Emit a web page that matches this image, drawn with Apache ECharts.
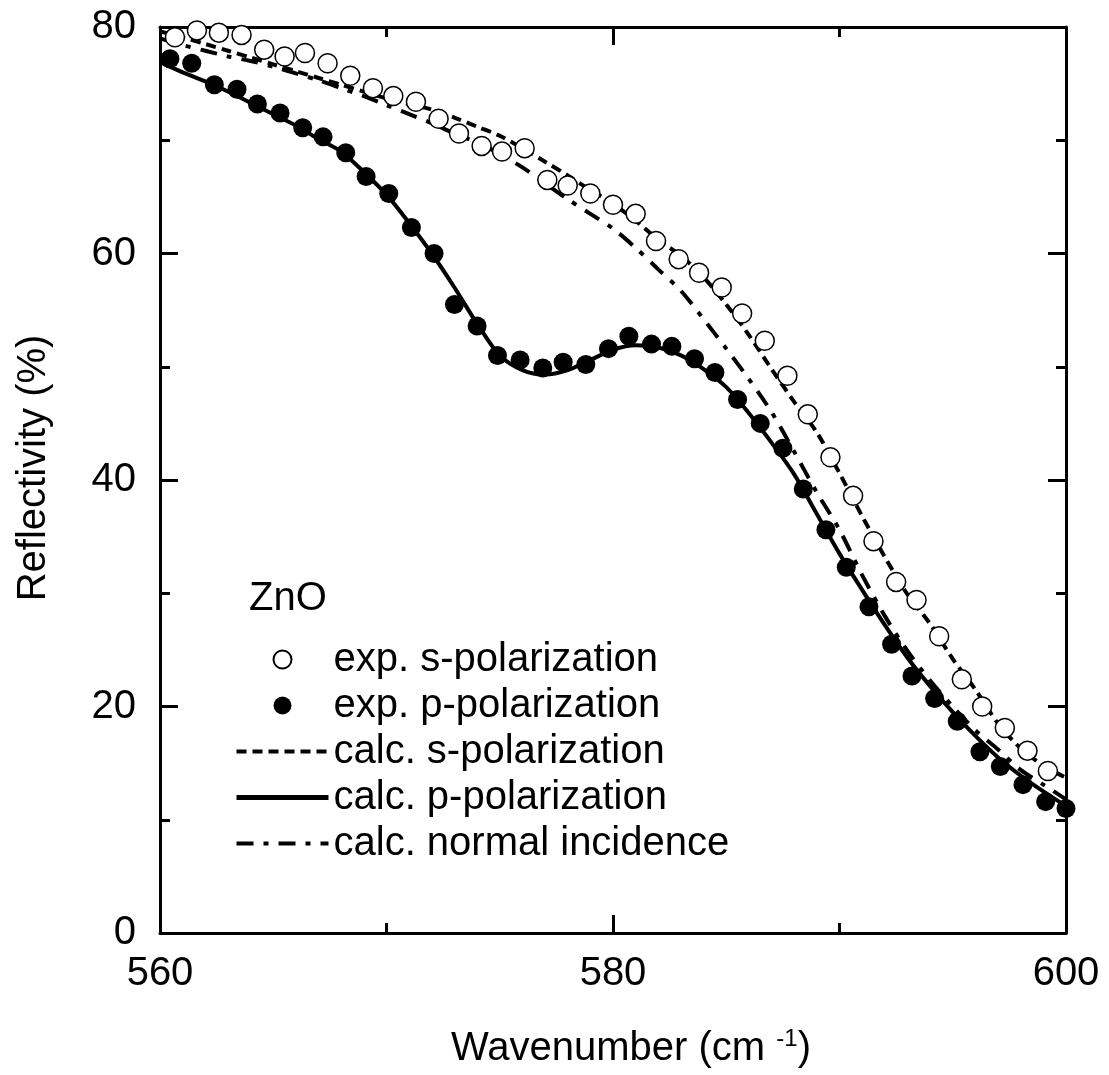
<!DOCTYPE html>
<html lang="en">
<head>
    <meta charset="UTF-8">
    <title>ZnO reflectivity</title>
    <script src="https://cdn.jsdelivr.net/npm/echarts@6/dist/echarts.min.js"></script>
    <style>
        body { margin: 0; background: #fff; }
        #main { width: 1109px; height: 1075px; }
    </style>
</head>
<body>
    <div id="main"></div>
    <script type="text/javascript">
        // measured points (wavenumber, reflectivity)
        var expSX = [560.66, 561.63, 562.6, 563.6, 564.6, 565.5, 566.4, 567.4, 568.4, 569.4, 570.3, 571.3, 572.3, 573.2, 574.2, 575.1, 576.1, 577.1, 578.0, 579.0, 580.0, 581.0, 581.9, 582.9, 583.8, 584.8, 585.7, 586.7, 587.7, 588.6, 589.6, 590.6, 591.5, 592.5, 593.4, 594.4, 595.4, 596.3, 597.3, 598.3, 599.2];
        var expSY = [79.1, 79.7, 79.5, 79.3, 78.0, 77.4, 77.7, 76.8, 75.7, 74.6, 73.9, 73.4, 71.9, 70.6, 69.5, 69.0, 69.3, 66.5, 66.0, 65.3, 64.3, 63.5, 61.1, 59.5, 58.3, 57.0, 54.7, 52.3, 49.2, 45.8, 42.0, 38.6, 34.6, 31.0, 29.4, 26.2, 22.4, 20.0, 18.1, 16.1, 14.3];

        var expPX = [560.44, 561.4, 562.4, 563.4, 564.3, 565.3, 566.3, 567.2, 568.2, 569.1, 570.1, 571.1, 572.1, 573.0, 574.0, 574.9, 575.9, 576.9, 577.8, 578.8, 579.8, 580.7, 581.7, 582.6, 583.6, 584.5, 585.5, 586.5, 587.5, 588.4, 589.4, 590.3, 591.3, 592.3, 593.2, 594.2, 595.2, 596.2, 597.1, 598.1, 599.1, 600.0];
        var expPY = [77.2, 76.8, 74.9, 74.5, 73.2, 72.4, 71.1, 70.3, 68.9, 66.8, 65.3, 62.3, 60.0, 55.5, 53.6, 51.0, 50.6, 49.9, 50.4, 50.2, 51.6, 52.7, 52.0, 51.8, 50.7, 49.5, 47.1, 45.0, 42.8, 39.2, 35.6, 32.3, 28.8, 25.5, 22.7, 20.7, 18.7, 16.0, 14.7, 13.1, 11.6, 11.0];

        // calculated curves, every 1 cm-1 from 560 to 600
        var calcX = [560, 561, 562, 563, 564, 565, 566, 567, 568, 569, 570, 571, 572, 573, 574, 575, 576, 577, 578, 579, 580, 581, 582, 583, 584, 585, 586, 587, 588, 589, 590, 591, 592, 593, 594, 595, 596, 597, 598, 599, 600];
        var calcS = [79.6, 79.1, 78.5, 77.9, 77.3, 76.7, 76.1, 75.5, 74.9, 74.3, 73.7, 73.2, 72.7, 72.0, 71.2, 70.4, 69.3, 68.1, 66.9, 65.6, 64.4, 62.9, 61.2, 59.8, 57.9, 55.5, 52.8, 49.8, 46.9, 44.2, 40.6, 36.8, 33.2, 29.9, 27.3, 24.2, 21.5, 18.5, 16.3, 14.8, 13.7];
        var calcP = [76.9, 76.0, 75.2, 74.3, 73.3, 72.3, 71.3, 70.1, 69.0, 67.2, 65.2, 62.7, 60.0, 57.0, 53.8, 51.0, 49.7, 49.3, 49.7, 50.6, 51.5, 51.9, 51.7, 51.0, 49.8, 48.2, 45.9, 43.3, 40.5, 37.0, 33.5, 30.3, 27.2, 24.3, 21.8, 19.5, 17.4, 15.5, 13.9, 12.5, 11.2];
        var calcN = [79.0, 78.4, 77.9, 77.4, 77.0, 76.5, 75.9, 75.3, 74.6, 73.9, 73.1, 72.3, 71.5, 70.6, 69.8, 68.8, 67.6, 66.2, 64.8, 63.5, 62.2, 60.5, 58.6, 56.7, 54.2, 51.6, 48.9, 46.0, 42.5, 38.9, 35.6, 31.6, 28.0, 24.9, 22.3, 20.0, 17.9, 16.2, 14.4, 13.1, 11.8];

        var xTicks = [560, 580, 600];
        var yTicks = [0, 20, 40, 60, 80];

        function pairs(xs, ys) {
            return xs.map(function (x, i) { return [x, ys[i]]; });
        }

        var font = 'Liberation Sans, Arial, sans-serif';
        var myChart = echarts.init(document.getElementById('main'));

        // one frame side; the labelled ones get labels/names added below
        function axisBase(pos, isX) {
            var ticks = isX ? xTicks : yTicks;
            return {
                type: 'value',
                position: pos,
                min: ticks[0],
                max: ticks[ticks.length - 1],
                interval: 20,
                axisLine: { show: true, onZero: false, lineStyle: { color: '#000', width: 3 } },
                axisTick: { show: true, inside: true, length: 18, lineStyle: { color: '#000', width: 3 } },
                minorTick: { show: true, splitNumber: 2, length: 10, lineStyle: { color: '#000', width: 3 } },
                splitLine: { show: false },
                axisLabel: { show: false }
            };
        }

        var xMain = axisBase('bottom', true);
        xMain.axisLabel = { show: true, fontSize: 40, color: '#000', fontFamily: font, margin: 21 };
        xMain.name = '{a|Wavenumber (cm }{b|-1}{a|)}';
        xMain.nameLocation = 'middle';
        xMain.nameGap = 94;
        xMain.nameTextStyle = {
            padding: [0, 0, 0, 36],
            rich: {
                a: { fontSize: 40, color: '#000', fontFamily: font },
                b: { fontSize: 24, color: '#000', fontFamily: font, verticalAlign: 'top', padding: [0, 0, 20, 0] }
            }
        };
        var xTop = axisBase('top', true);

        var yMain = axisBase('left', false);
        yMain.axisLabel = { show: true, fontSize: 40, color: '#000', fontFamily: font, margin: 24 };
        yMain.name = 'Reflectivity (%)';
        yMain.nameLocation = 'middle';
        yMain.nameGap = 106;
        yMain.nameTextStyle = { fontSize: 40, color: '#000', fontFamily: font, padding: [0, 0, 0, 24] };
        var yRight = axisBase('right', false);

        // line entries in the legend show only the line sample
        var noMark = { color: 'rgba(0,0,0,0)', opacity: 0, borderWidth: 0 };

        var option = {
            animation: false,
            backgroundColor: '#fff',
            title: {
                text: 'ZnO',
                left: 244,
                top: 574,
                textStyle: { fontSize: 40, fontWeight: 'normal', color: '#000', fontFamily: font }
            },
            legend: {
                orient: 'vertical',
                left: 229,
                top: 632,
                itemWidth: 92,
                itemHeight: 18,
                itemGap: 1,
                selectedMode: false,
                lineStyle: { width: 4 },
                textStyle: { fontSize: 40, color: '#000', fontFamily: font, lineHeight: 45 },
                data: [
                    'exp. s-polarization',
                    'exp. p-polarization',
                    { name: 'calc. s-polarization', itemStyle: noMark },
                    { name: 'calc. p-polarization', itemStyle: noMark, lineStyle: { width: 5 } },
                    { name: 'calc. normal incidence', itemStyle: noMark }
                ]
            },
            grid: { left: 160, right: 43, top: 27, bottom: 142, containLabel: false },
            xAxis: [xMain, xTop],
            yAxis: [yMain, yRight],
            series: [
                {
                    name: 'calc. s-polarization',
                    type: 'line',
                    symbol: 'none',
                    smooth: 0.3,
                    data: pairs(calcX, calcS),
                    lineStyle: { color: '#000', width: 4, type: [10, 6] },
                    itemStyle: { color: '#000' },
                    z: 2
                },
                {
                    name: 'calc. p-polarization',
                    type: 'line',
                    symbol: 'none',
                    smooth: 0.3,
                    data: pairs(calcX, calcP),
                    lineStyle: { color: '#000', width: 4 },
                    itemStyle: { color: '#000' },
                    z: 2
                },
                {
                    name: 'calc. normal incidence',
                    type: 'line',
                    symbol: 'none',
                    smooth: 0.3,
                    data: pairs(calcX, calcN),
                    lineStyle: { color: '#000', width: 4, type: [17, 10, 5, 10] },
                    itemStyle: { color: '#000' },
                    z: 2
                },
                {
                    name: 'exp. s-polarization',
                    type: 'scatter',
                    symbol: 'circle',
                    symbolSize: 19,
                    data: pairs(expSX, expSY),
                    itemStyle: { color: '#fff', borderColor: '#000', borderWidth: 1.5, opacity: 1 },
                    z: 3
                },
                {
                    name: 'exp. p-polarization',
                    type: 'scatter',
                    symbol: 'circle',
                    symbolSize: 19,
                    data: pairs(expPX, expPY),
                    itemStyle: { color: '#000', opacity: 1 },
                    z: 3
                }
            ]
        };

        myChart.setOption(option);
    </script>
</body>
</html>
